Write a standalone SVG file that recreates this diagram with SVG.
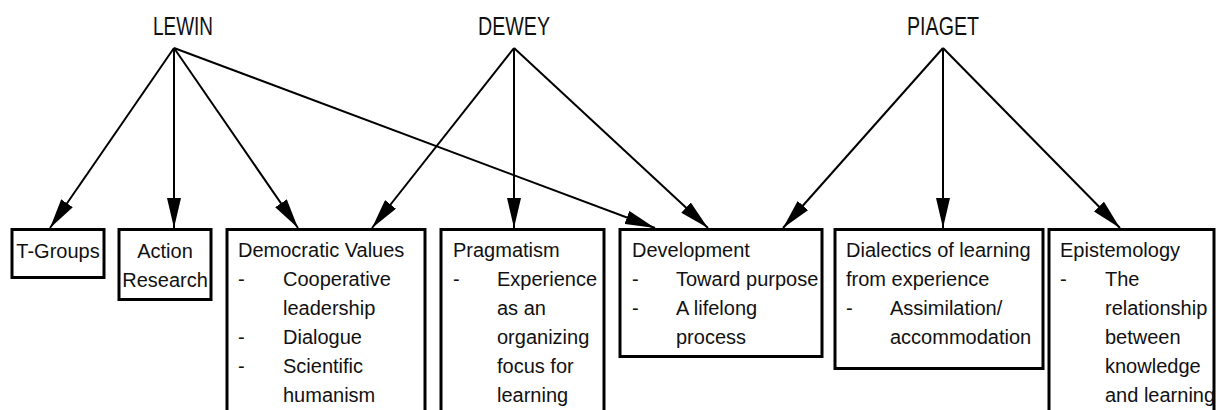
<svg xmlns="http://www.w3.org/2000/svg" width="1216" height="410" viewBox="0 0 1216 410">
<style>
text{font-family:"Liberation Sans",Arial,sans-serif;font-size:20px;fill:#111}
.h{font-size:25px}
.box{fill:#fff;stroke:#000;stroke-width:3}
.c{stroke:#000;stroke-width:2;fill:none}
</style>
<defs>
<marker id="ah" markerUnits="userSpaceOnUse" markerWidth="31" markerHeight="14" refX="30" refY="7" orient="auto">
<path d="M0,0 L30,7 L0,14 Z" fill="#000"/>
</marker>
</defs>
<rect width="1216" height="410" fill="#fff"/>
<g id="lewin"><text class="h" x="153" y="35" textLength="60" lengthAdjust="spacingAndGlyphs">LEWIN</text></g>
<g id="dewey"><text class="h" x="478" y="35" textLength="72" lengthAdjust="spacingAndGlyphs">DEWEY</text></g>
<g id="piaget"><text class="h" x="907" y="35" textLength="72" lengthAdjust="spacingAndGlyphs">PIAGET</text></g>
<g id="connectors">
<line class="c" x1="174" y1="48" x2="50" y2="228" marker-end="url(#ah)"/>
<line class="c" x1="174" y1="48" x2="174" y2="228" marker-end="url(#ah)"/>
<line class="c" x1="174" y1="48" x2="298" y2="228" marker-end="url(#ah)"/>
<line class="c" x1="174" y1="48" x2="655" y2="228" marker-end="url(#ah)"/>
<line class="c" x1="514" y1="48" x2="372" y2="228" marker-end="url(#ah)"/>
<line class="c" x1="514" y1="48" x2="514" y2="228" marker-end="url(#ah)"/>
<line class="c" x1="514" y1="48" x2="708" y2="228" marker-end="url(#ah)"/>
<line class="c" x1="943" y1="48" x2="783" y2="228" marker-end="url(#ah)"/>
<line class="c" x1="943" y1="48" x2="943" y2="228" marker-end="url(#ah)"/>
<line class="c" x1="943" y1="48" x2="1120" y2="228" marker-end="url(#ah)"/>
</g>
<g id="tgroups">
<rect class="box" x="12" y="229.5" width="92" height="48"/>
<text x="58" y="258" text-anchor="middle">T-Groups</text>
</g>
<g id="action-research">
<rect class="box" x="119" y="229.5" width="92" height="70"/>
<text x="165" y="258" text-anchor="middle">Action</text>
<text x="165" y="287" text-anchor="middle">Research</text>
</g>
<g id="democratic-values">
<rect class="box" x="227" y="229.5" width="198" height="200"/>
<text x="238" y="257">Democratic Values</text>
<text x="238" y="286">-</text><text x="283" y="286">Cooperative</text>
<text x="283" y="315">leadership</text>
<text x="238" y="344">-</text><text x="283" y="344">Dialogue</text>
<text x="238" y="373">-</text><text x="283" y="373">Scientific</text>
<text x="283" y="402">humanism</text>
</g>
<g id="pragmatism">
<rect class="box" x="441" y="229.5" width="163" height="200"/>
<text x="453" y="257">Pragmatism</text>
<text x="453" y="286">-</text><text x="497" y="286">Experience</text>
<text x="497" y="315">as an</text>
<text x="497" y="344">organizing</text>
<text x="497" y="373">focus for</text>
<text x="497" y="402">learning</text>
</g>
<g id="development">
<rect class="box" x="620" y="229.5" width="202" height="127"/>
<text x="632" y="257">Development</text>
<text x="632" y="286">-</text><text x="676" y="286">Toward purpose</text>
<text x="632" y="315">-</text><text x="676" y="315">A lifelong</text>
<text x="676" y="344">process</text>
</g>
<g id="dialectics">
<rect class="box" x="835" y="229.5" width="208" height="139"/>
<text x="846" y="257">Dialectics of learning</text>
<text x="846" y="286">from experience</text>
<text x="846" y="315">-</text><text x="890" y="315">Assimilation/</text>
<text x="890" y="344">accommodation</text>
</g>
<g id="epistemology">
<rect class="box" x="1049" y="229.5" width="165" height="200"/>
<text x="1060" y="257">Epistemology</text>
<text x="1060" y="286">-</text><text x="1105" y="286">The</text>
<text x="1105" y="315">relationship</text>
<text x="1105" y="344">between</text>
<text x="1105" y="373">knowledge</text>
<text x="1105" y="402">and learning</text>
</g>
</svg>
